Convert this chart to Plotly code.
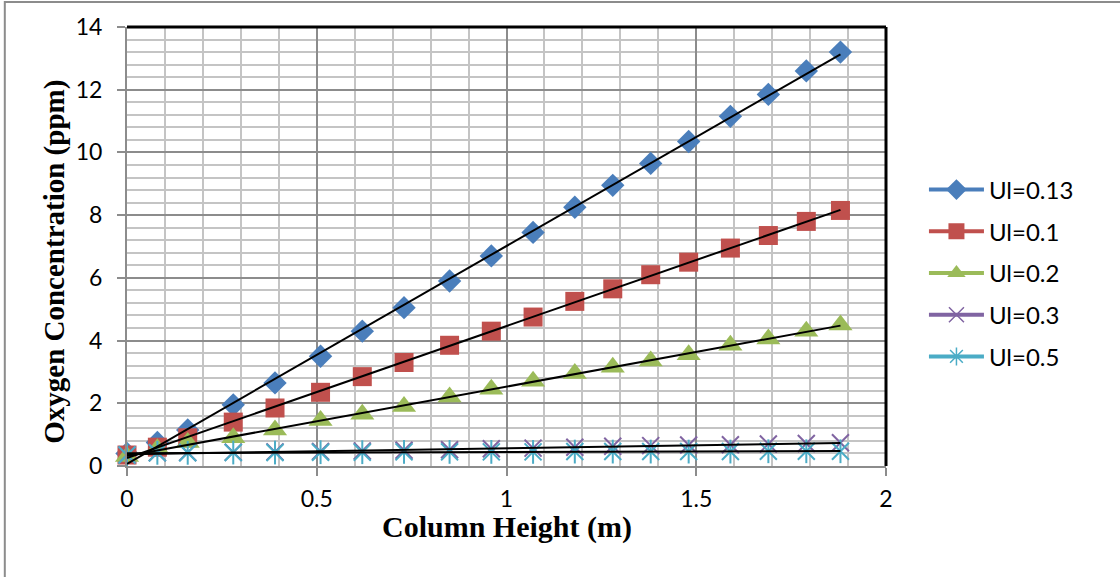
import numpy as np
import plotly.graph_objects as go

height_m = [0, 0.08, 0.16, 0.28, 0.39, 0.51, 0.62, 0.73, 0.85, 0.96, 1.07, 1.18, 1.28, 1.38, 1.48, 1.59, 1.69, 1.79, 1.88]
ul_013 = [0.4, 0.75, 1.15, 1.95, 2.65, 3.5, 4.3, 5.05, 5.9, 6.7, 7.45, 8.25, 8.95, 9.65, 10.35, 11.15, 11.85, 12.6, 13.2]
ul_01 = [0.35, 0.6, 0.9, 1.4, 1.85, 2.35, 2.85, 3.3, 3.85, 4.3, 4.75, 5.25, 5.65, 6.1, 6.5, 6.95, 7.35, 7.8, 8.15]
ul_02 = [0.3, 0.55, 0.75, 0.9, 1.15, 1.45, 1.65, 1.9, 2.2, 2.45, 2.7, 2.95, 3.15, 3.35, 3.55, 3.85, 4.05, 4.3, 4.5]
ul_03 = [0.35, 0.42, 0.43, 0.44, 0.45, 0.46, 0.48, 0.5, 0.52, 0.55, 0.57, 0.6, 0.63, 0.65, 0.67, 0.68, 0.7, 0.72, 0.74]
ul_05 = [0.35, 0.42, 0.42, 0.43, 0.43, 0.44, 0.44, 0.45, 0.45, 0.45, 0.45, 0.46, 0.46, 0.46, 0.46, 0.46, 0.47, 0.47, 0.47]

names = ["Ul=0.13", "Ul=0.1", "Ul=0.2", "Ul=0.3", "Ul=0.5"]
series = [ul_013, ul_01, ul_02, ul_03, ul_05]
colors = ["#4A7EBB", "#C0504D", "#9BBB59", "#8064A2", "#4BACC6"]
symbols = ["diamond", "square", "triangle-up", "x-thin-open", "asterisk-open"]
sizes = [18, 19, 21, 17, 17]

x_title = "Column Height (m)"
y_title = "Oxygen Concentration (ppm)"

fig = go.Figure()
x = np.array(height_m)

# data markers
for name, ys, c, s, sz in zip(names, series, colors, symbols, sizes):
    open_sym = s.endswith("open")
    if name == "Ul=0.5":
        for sym in ["x-thin-open", "line-ns-open"]:
            fig.add_trace(go.Scatter(
                x=height_m, y=ys, mode="markers", showlegend=False, cliponaxis=False,
                marker=dict(symbol=sym, size=sz, color=c, line=dict(color=c, width=2)),
                hoverinfo="skip"))
    else:
        fig.add_trace(go.Scatter(
            x=height_m, y=ys, mode="markers", showlegend=False, cliponaxis=False,
            marker=dict(symbol=s, size=sz, color=c,
                        line=dict(color=c, width=2 if open_sym else 0)),
            name=name))

# linear trendlines
for ys in series:
    k, b = np.polyfit(x, np.array(ys), 1)
    xs = [x.min(), x.max()]
    fig.add_trace(go.Scatter(x=xs, y=[k * v + b for v in xs], mode="lines",
                             line=dict(color="black", width=2), showlegend=False,
                             hoverinfo="skip"))

# legend entries
leg_syms = ["diamond", "square", "triangle-up", "x-thin-open", "asterisk-open"]
leg_sizes = [17, 18, 18, 15, 15]
for i, (name, c, s, sz) in enumerate(zip(names, colors, leg_syms, leg_sizes)):
    fig.add_trace(go.Scatter(
        x=[None], y=[None], mode="lines+markers", name=name, legendgroup=name,
        line=dict(color=c, width=4),
        marker=dict(symbol=s, size=sz, color=c, line=dict(color=c, width=1.5 if s.endswith("open") else 0))))

fig.update_layout(
    width=1120, height=577,
    margin=dict(l=127, r=234, t=27, b=111),
    paper_bgcolor="white", plot_bgcolor="white",
    font=dict(family="Lato", size=22, color="black"),
    legend=dict(x=1.05, y=0.68, xanchor="left", yanchor="top",
                font=dict(family="Lato", size=24), tracegroupgap=7.5, itemwidth=55),
    xaxis=dict(range=[0, 2], dtick=0.5, tick0=0,
               showgrid=True, gridcolor="#8C8C8C", gridwidth=2,
               minor=dict(dtick=0.1, showgrid=True, gridcolor="#C4C4C4", gridwidth=2,
                          ticks=""),
               showline=True, linecolor="#8C8C8C", linewidth=2,
               ticks="outside", ticklen=8, tickcolor="#8C8C8C", tickwidth=2,
               ticklabelstandoff=3, zeroline=False,
               tickfont=dict(family="Lato", size=23)),
    yaxis=dict(range=[0, 14], dtick=2, tick0=0,
               showgrid=True, gridcolor="#8C8C8C", gridwidth=2,
               minor=dict(dtick=0.4, showgrid=True, gridcolor="#C4C4C4", gridwidth=2,
                          ticks=""),
               showline=True, linecolor="#8C8C8C", linewidth=2,
               ticks="outside", ticklen=8, tickcolor="#8C8C8C", tickwidth=2,
               ticklabelstandoff=10,
               zeroline=False, tickfont=dict(family="Lato", size=23)),
    annotations=[
        dict(text="<b>" + x_title + "</b>", xref="paper", yref="paper",
             x=0.5, y=-0.14, xanchor="center", yanchor="middle", showarrow=False,
             font=dict(family="Liberation Serif", size=30)),
        dict(text="<b>" + y_title + "</b>", xref="paper", yref="paper",
             x=-0.095, y=0.465, xanchor="center", yanchor="middle", showarrow=False,
             textangle=-90, font=dict(family="Liberation Serif", size=29)),
    ],
    shapes=[
        dict(type="line", xref="x domain", yref="y domain", x0=0, x1=1, y0=1, y1=1,
             line=dict(color="black", width=3)),
        dict(type="line", xref="x domain", yref="y domain", x0=1, x1=1, y0=0, y1=1,
             line=dict(color="black", width=3)),
        dict(type="rect", xref="paper", yref="paper", x0=-0.161, x1=1.35, y0=-0.3, y1=1.057,
             line=dict(color="#8C8C8C", width=2), fillcolor="rgba(0,0,0,0)"),
    ],
)

fig.write_html("out.html")
